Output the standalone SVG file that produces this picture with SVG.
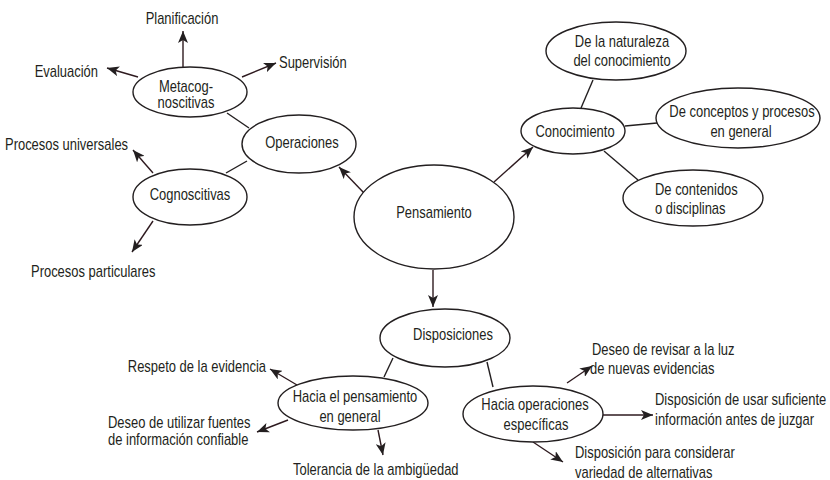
<svg xmlns="http://www.w3.org/2000/svg" width="830" height="480" viewBox="0 0 830 480">
<defs>
<style>
text{font-family:"Liberation Sans","Arial",sans-serif;font-size:16px;fill:#231f20}
.m{text-anchor:middle}
.e{text-anchor:end}
ellipse{fill:#fff;stroke:#231f20;stroke-width:1.4}
.ln{stroke:#231f20;stroke-width:1.4;fill:none}
.ar{stroke:#2e1a1f;stroke-width:1.4;fill:none;marker-end:url(#ah)}
</style>
<marker id="ah" viewBox="0 0 12 10" refX="12" refY="5" markerWidth="12" markerHeight="10" orient="auto" markerUnits="userSpaceOnUse">
<path d="M0,0 L12,5 L0,10 L3,5 Z" fill="#231f20"/>
</marker>
</defs>
<g id="connectors">
<line class="ar" x1="364" y1="193" x2="339" y2="167"/>
<line class="ar" x1="494" y1="182" x2="533" y2="147"/>
<line class="ar" x1="433" y1="270" x2="433" y2="307"/>
<line class="ln" x1="581" y1="108" x2="593" y2="80"/>
<line class="ln" x1="625" y1="126" x2="657" y2="123"/>
<line class="ln" x1="604" y1="151" x2="638" y2="180"/>
<line class="ln" x1="227" y1="113" x2="249" y2="128"/>
<line class="ln" x1="226" y1="173" x2="247" y2="161"/>
<line class="ar" x1="183" y1="67" x2="183" y2="31"/>
<line class="ar" x1="138" y1="77" x2="107" y2="68"/>
<line class="ar" x1="242" y1="77" x2="276" y2="63"/>
<line class="ar" x1="153" y1="173" x2="133" y2="150"/>
<line class="ar" x1="153" y1="221" x2="132" y2="252"/>
<line class="ln" x1="393" y1="358" x2="384" y2="377"/>
<line class="ln" x1="487" y1="362" x2="493" y2="387"/>
<line class="ar" x1="297" y1="385" x2="270" y2="369"/>
<line class="ar" x1="288" y1="420" x2="257" y2="432"/>
<line class="ar" x1="378" y1="430" x2="383" y2="455"/>
<line class="ar" x1="567" y1="383" x2="592" y2="366"/>
<line class="ar" x1="603" y1="415" x2="653" y2="415"/>
<line class="ar" x1="533" y1="442" x2="563" y2="462"/>
</g>
<g id="pensamiento"><ellipse cx="434" cy="217" rx="80" ry="52"/><text class="m" transform="matrix(.81 0 0 1 434 218)">Pensamiento</text></g>
<g id="operaciones"><ellipse cx="299" cy="144" rx="57" ry="29"/><text class="m" transform="matrix(.81 0 0 1 302 148)">Operaciones</text></g>
<g id="metacognoscitivas"><ellipse cx="190" cy="92" rx="57" ry="25"/><text class="m" transform="matrix(.81 0 0 1 186 92)">Metacog-</text><text class="m" transform="matrix(.81 0 0 1 186 108)">noscitivas</text></g>
<g id="cognoscitivas"><ellipse cx="190" cy="197" rx="57" ry="28"/><text class="m" transform="matrix(.81 0 0 1 190 200)">Cognoscitivas</text></g>
<g id="conocimiento"><ellipse cx="573" cy="131" rx="52" ry="23"/><text class="m" transform="matrix(.81 0 0 1 575 137)">Conocimiento</text></g>
<g id="naturaleza"><ellipse cx="616" cy="51" rx="70" ry="29"/><text class="m" transform="matrix(.81 0 0 1 622 47)">De la naturaleza</text><text class="m" transform="matrix(.81 0 0 1 622 66)">del conocimiento</text></g>
<g id="conceptos"><ellipse cx="738" cy="118" rx="82" ry="30"/><text class="m" transform="matrix(.81 0 0 1 742 117)">De conceptos y procesos</text><text class="m" transform="matrix(.81 0 0 1 741 137)">en general</text></g>
<g id="contenidos"><ellipse cx="693" cy="198" rx="70" ry="28"/><text transform="matrix(.81 0 0 1 655 195)">De contenidos</text><text transform="matrix(.81 0 0 1 655 214)">o disciplinas</text></g>
<g id="disposiciones"><ellipse cx="445" cy="338" rx="65" ry="29"/><text class="m" transform="matrix(.81 0 0 1 453 340)">Disposiciones</text></g>
<g id="hacia-pensamiento"><ellipse cx="353" cy="403" rx="75" ry="27"/><text class="m" transform="matrix(.81 0 0 1 355 402)">Hacia el pensamiento</text><text class="m" transform="matrix(.81 0 0 1 350 422)">en general</text></g>
<g id="hacia-operaciones"><ellipse cx="533" cy="414" rx="70" ry="28"/><text class="m" transform="matrix(.81 0 0 1 535 410)">Hacia operaciones</text><text class="m" transform="matrix(.81 0 0 1 536 430)">específicas</text></g>
<g id="labels">
<text class="m" transform="matrix(.81 0 0 1 182 24)">Planificación</text>
<text class="e" transform="matrix(.81 0 0 1 98 77)">Evaluación</text>
<text transform="matrix(.81 0 0 1 279 68)">Supervisión</text>
<text transform="matrix(.81 0 0 1 5 150)">Procesos universales</text>
<text transform="matrix(.81 0 0 1 31 277)">Procesos particulares</text>
<text class="e" transform="matrix(.81 0 0 1 266 372)">Respeto de la evidencia</text>
<text transform="matrix(.81 0 0 1 108 428)">Deseo de utilizar fuentes</text>
<text transform="matrix(.81 0 0 1 108 445)">de información confiable</text>
<text transform="matrix(.81 0 0 1 293 475)">Tolerancia de la ambigüedad</text>
<text transform="matrix(.81 0 0 1 592 355)">Deseo de revisar a la luz</text>
<text transform="matrix(.81 0 0 1 590 374)">de nuevas evidencias</text>
<text transform="matrix(.81 0 0 1 655 405)">Disposición de usar suficiente</text>
<text transform="matrix(.81 0 0 1 655 425)">información antes de juzgar</text>
<text transform="matrix(.81 0 0 1 575 458)">Disposición para considerar</text>
<text transform="matrix(.81 0 0 1 575 478)">variedad de alternativas</text>
</g>
</svg>
